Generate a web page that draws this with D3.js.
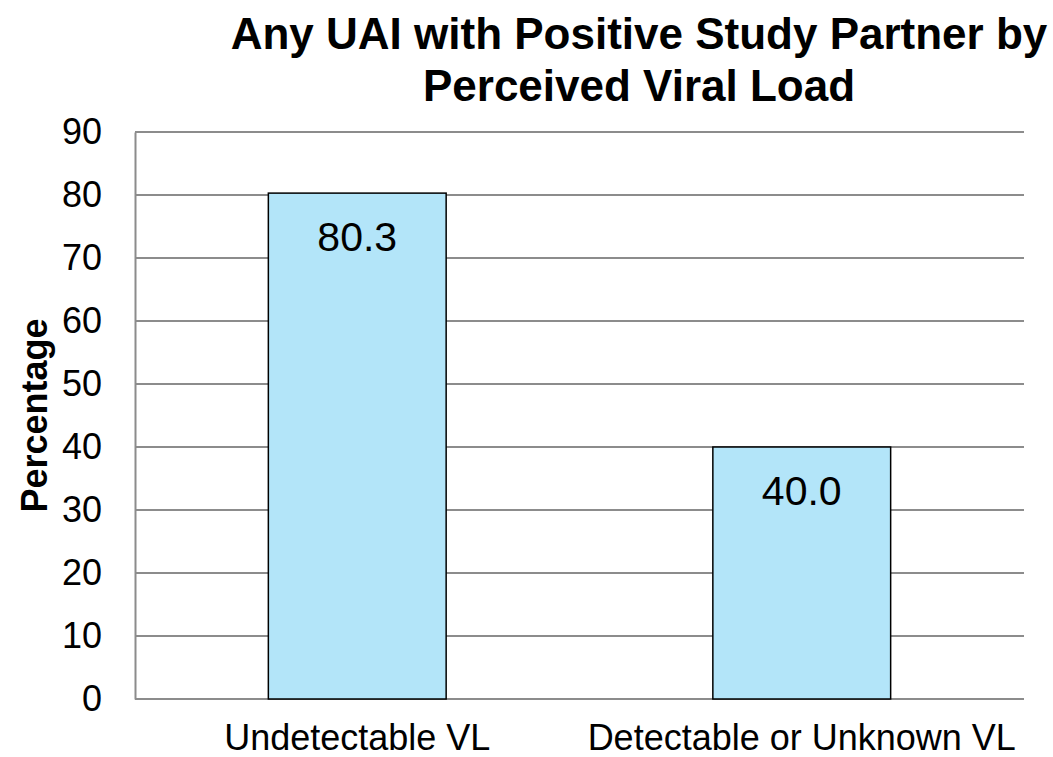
<!DOCTYPE html>
<html>
<head>
<meta charset="utf-8">
<script src="https://cdn.jsdelivr.net/npm/d3@7"></script>
<style>
  body { margin: 0; background: #fff; }
  svg text { font-family: "Liberation Sans", Arial, sans-serif; fill: #000; }
</style>
</head>
<body>
<svg width="1053" height="757"></svg>
<script>
var categories = ["Undetectable VL", "Detectable or Unknown VL"];
var values = [80.3, 40.0];
var yTicks = [0, 10, 20, 30, 40, 50, 60, 70, 80, 90];
var titleLines = ["Any UAI with Positive Study Partner by", "Perceived Viral Load"];
var yTitle = "Percentage";

var svg = d3.select("svg");

var plotLeft = 135, plotRight = 1024, plotTop = 132, plotBottom = 699;

var x = d3.scaleBand()
  .domain(categories)
  .range([plotLeft, plotRight])
  .paddingInner(0.6)
  .paddingOuter(0.3);

var y = d3.scaleLinear()
  .domain([0, 90])
  .range([plotBottom, plotTop]);

// gridlines
svg.append("g")
  .selectAll("line")
  .data(yTicks)
  .join("line")
  .attr("x1", plotLeft)
  .attr("x2", plotRight)
  .attr("y1", d => y(d))
  .attr("y2", d => y(d))
  .attr("stroke", "#8c8c8c")
  .attr("stroke-width", 2);

// y axis
var yAxis = svg.append("g")
  .attr("transform", "translate(" + plotLeft + ",0)")
  .call(d3.axisLeft(y).tickValues(yTicks).tickSize(0).tickPadding(33));
yAxis.select(".domain").attr("stroke", "#8c8c8c").attr("stroke-width", 2);
yAxis.selectAll("text")
  .attr("font-size", 36)
  .attr("font-family", "Liberation Sans, Arial, sans-serif")
  .attr("fill", "#000");

// bars
svg.append("g")
  .selectAll("rect")
  .data(values)
  .join("rect")
  .attr("x", (d, i) => x(categories[i]))
  .attr("y", d => y(d))
  .attr("width", x.bandwidth())
  .attr("height", d => y(0) - y(d))
  .attr("fill", "#b3e5f9")
  .attr("stroke", "#000")
  .attr("stroke-width", 1.5);

// value labels
svg.append("g")
  .selectAll("text")
  .data(values)
  .join("text")
  .attr("x", (d, i) => x(categories[i]) + x.bandwidth() / 2)
  .attr("y", d => y(d) + 58)
  .attr("text-anchor", "middle")
  .attr("font-size", 41)
  .text(d => d.toFixed(1));

// category labels
svg.append("g")
  .selectAll("text")
  .data(categories)
  .join("text")
  .attr("x", d => x(d) + x.bandwidth() / 2)
  .attr("y", 750)
  .attr("text-anchor", "middle")
  .attr("font-size", 36)
  .text(d => d);

// title
svg.append("g")
  .selectAll("text")
  .data(titleLines)
  .join("text")
  .attr("x", 639)
  .attr("y", (d, i) => 49 + i * 52)
  .attr("text-anchor", "middle")
  .attr("font-size", 44)
  .attr("font-weight", "bold")
  .text(d => d);

// y title
svg.append("text")
  .attr("transform", "translate(47," + ((plotTop + plotBottom) / 2) + ") rotate(-90)")
  .attr("text-anchor", "middle")
  .attr("font-size", 36)
  .attr("font-weight", "bold")
  .text(yTitle);
</script>
</body>
</html>
